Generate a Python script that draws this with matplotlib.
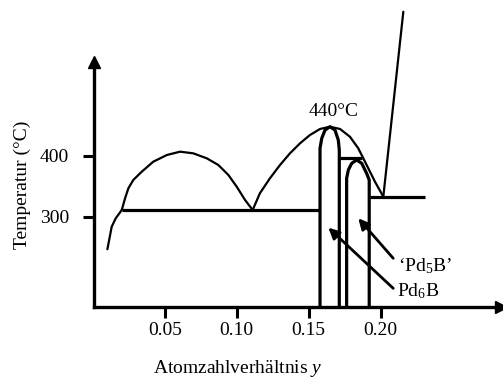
import matplotlib
matplotlib.use("Agg")
import matplotlib.pyplot as plt

plt.rcParams['font.family'] = ['Liberation Serif', 'DejaVu Serif']
plt.rcParams['mathtext.fontset'] = 'custom'
plt.rcParams['mathtext.rm'] = 'Liberation Serif'
plt.rcParams['mathtext.it'] = 'Liberation Serif:italic'

# ---- data ----
liq_left_x = [0.0101, 0.0131, 0.0159, 0.0201]
liq_left_T = [246.6, 283.6, 297.4, 311.0]

dome1_x = [0.0201, 0.0224, 0.0247, 0.0281, 0.0340, 0.0420, 0.0514, 0.0606, 0.0698,
           0.0792, 0.0872, 0.0942, 0.1000, 0.1058, 0.1111]
dome1_T = [311.0, 330.2, 346.6, 360.2, 373.8, 390.2, 401.1, 406.6, 403.9,
           395.7, 384.8, 368.4, 349.2, 327.4, 311.0]

dome2_x = [0.1111, 0.1161, 0.1231, 0.1301, 0.1370, 0.1440, 0.1509, 0.1579, 0.1648,
           0.1718, 0.1787, 0.1845, 0.1903, 0.1961, 0.2019]
dome2_T = [311.0, 338.4, 363.0, 384.8, 403.9, 420.3, 433.9, 443.8, 447.5,
           443.8, 431.1, 412.1, 384.8, 357.4, 332.8]

eutectic_T = 311.0
eutectic_x = [0.0201, 0.1575]
right_line_T = 332.8
right_line_x = [0.1926, 0.2309]
steep_x = [0.2019, 0.2158]
steep_T = [332.8, 636.0]

T_floor = 152.0
pd6b_x = [0.1579, 0.1579, 0.1591, 0.1614, 0.1648, 0.1683, 0.1706, 0.1713, 0.1713]
pd6b_T = [T_floor, 412.1, 428.5, 442.1, 447.5, 442.1, 425.7, 409.3, T_floor]
peri_T = 395.7
peri_x = [0.1713, 0.1869]
pd5b_x = [0.1764, 0.1764, 0.1776, 0.1799, 0.1834, 0.1869, 0.1903, 0.1921, 0.1921]
pd5b_T = [T_floor, 363.0, 376.6, 387.5, 393.0, 387.5, 371.1, 360.2, T_floor]

xticks = [0.05, 0.10, 0.15, 0.20]
xticklabels = ["0.05", "0.10", "0.15", "0.20"]
yticks = [300, 400]
yticklabels = ["300", "400"]

# ---- figure ----
fig = plt.figure(figsize=(5.03, 3.78), dpi=100)
W, H = 503, 378
ax_l, ax_r, ax_b, ax_t = 94, 501, 307, 62
ax = fig.add_axes([ax_l / W, (H - ax_b) / H, (ax_r - ax_l) / W, (ax_b - ax_t) / H])
ax.set_xlim(0.0008, 0.2837)
ax.set_ylim(152.0, 553.6)

for s in ['top', 'right']:
    ax.spines[s].set_visible(False)
for s in ['left', 'bottom']:
    ax.spines[s].set_linewidth(2.4)
ax.plot(1, 0, marker='>', color='k', markersize=9, transform=ax.transAxes, clip_on=False)
ax.plot(0, 1, marker='^', color='k', markersize=9, transform=ax.transAxes, clip_on=False)

ax.set_xticks(xticks)
ax.set_xticklabels(xticklabels)
ax.set_yticks(yticks)
ax.set_yticklabels(yticklabels)
ax.tick_params(axis='both', direction='out', length=8, width=2.2, labelsize=14)
ax.tick_params(axis='x', pad=2.5)
ax.tick_params(axis='y', pad=10)

lw_c = 1.6
lw_s = 2.3
kw_c = dict(color='k', lw=lw_c, clip_on=False, solid_joinstyle='round', solid_capstyle='round')
ax.plot(liq_left_x, liq_left_T, **kw_c)
ax.plot(dome1_x, dome1_T, **kw_c)
ax.plot(dome2_x, dome2_T, **kw_c)
ax.plot(steep_x, steep_T, **kw_c)
ax.plot(eutectic_x, [eutectic_T] * 2, color='k', lw=lw_s, solid_capstyle='butt')
ax.plot(right_line_x, [right_line_T] * 2, color='k', lw=lw_s, solid_capstyle='butt')
ax.plot(peri_x, [peri_T] * 2, color='k', lw=lw_s, solid_capstyle='butt')
ax.plot(pd6b_x, pd6b_T, color='k', lw=lw_s, clip_on=False, solid_joinstyle='round')
ax.plot(pd5b_x, pd5b_T, color='k', lw=lw_s, clip_on=False, solid_joinstyle='round')

ax.text(0.1671, 472, "440°C", fontsize=14, ha='center', va='center')

ax.annotate("", xy=(0.1845, 297.4), xytext=(0.2088, 231.8),
            arrowprops=dict(arrowstyle='-|>', color='k', lw=2, mutation_scale=16, shrinkA=0, shrinkB=0))
ax.annotate("", xy=(0.1637, 282.0), xytext=(0.2088, 182.6),
            arrowprops=dict(arrowstyle='-|>', color='k', lw=2, mutation_scale=16, shrinkA=0, shrinkB=0))
ax.text(0.2123, 210, "‘Pd$_\\mathrm{5}$B’", fontsize=14, ha='left', va='baseline')
ax.text(0.2117, 170, "Pd$_\\mathrm{6}$B", fontsize=14, ha='left', va='baseline')

ax.set_xlabel("Atomzahlverhältnis $\\mathit{y}$", fontsize=14)
ax.xaxis.set_label_coords((238 - ax_l) / (ax_r - ax_l), (ax_b - 358) / (ax_b - ax_t))
ax.set_ylabel("Temperatur (°C)", fontsize=14)
ax.yaxis.set_label_coords((31 - ax_l) / (ax_r - ax_l), (ax_b - 185) / (ax_b - ax_t))

fig.savefig("out.png", dpi=100)
